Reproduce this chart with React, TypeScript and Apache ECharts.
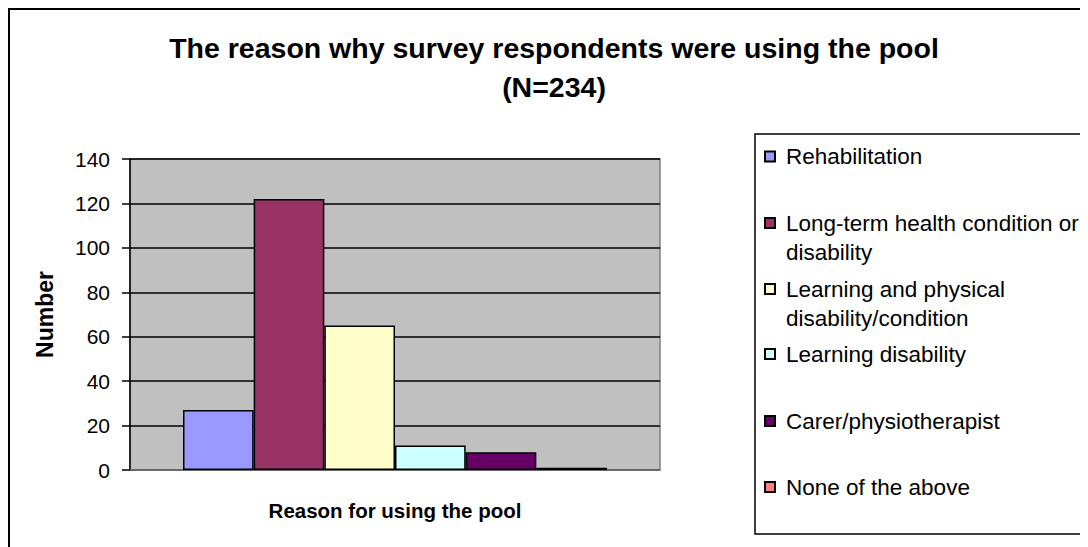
import React, { useEffect, useRef } from "react";
import * as echarts from "echarts";

const categories = [""];
const seriesNames = [
  "Rehabilitation",
  "Long-term health condition or disability",
  "Learning and physical disability/condition",
  "Learning disability",
  "Carer/physiotherapist",
  "None of the above",
];
const legendLabels = [
  "Rehabilitation",
  "Long-term health condition or\ndisability",
  "Learning and physical\ndisability/condition",
  "Learning disability",
  "Carer/physiotherapist",
  "None of the above",
];
const seriesValues = [27, 122, 65, 11, 8, 1];
const seriesColors = ["#9999FF", "#993366", "#FFFFCC", "#CCFFFF", "#660066", "#FF8080"];
const legendTops = [134, 171.5, 237.5, 331.5, 398.5, 464.5];
const yTicks = { min: 0, max: 140, interval: 20 };

const FONT = 'Arial, "Liberation Sans", sans-serif';

export default function App() {
  const ref = useRef<HTMLDivElement>(null);
  useEffect(() => {
    const chart = echarts.init(ref.current!, null, { renderer: "svg" });
    const series = seriesNames.map((name, i) => ({
      name,
      type: "bar",
      data: [seriesValues[i]],
      barGap: "0%",
      barCategoryGap: "20%",
      itemStyle: { color: seriesColors[i], borderColor: "#000", borderWidth: 1.5 },
    }));
    const legends = seriesNames.map((name, i) => {
      const twoLine = legendLabels[i].includes("\n");
      return {
        data: [name],
        orient: "vertical",
        left: 756,
        top: legendTops[i],
        padding: 0,
        itemWidth: 10,
        itemHeight: 10,
        icon: "rect",
        selectedMode: false,
        formatter: () => (twoLine ? "\n" + legendLabels[i] : legendLabels[i]),
        textStyle: {
          fontFamily: FONT,
          fontSize: 22.5,
          lineHeight: 29,
          color: "#000",
          padding: [0, 0, 0, 6],
        },
        z: 10,
      };
    });
    chart.setOption({
      animation: false,
      backgroundColor: "#fff",
      title: {
        text: "The reason why survey respondents were using the pool\n(N=234)",
        left: 546,
        top: 20,
        padding: 0,
        textAlign: "center",
        textStyle: {
          fontFamily: FONT,
          fontSize: 28.5,
          fontWeight: "bold",
          lineHeight: 39,
          color: "#000",
        },
      },
      graphic: [
        {
          type: "rect",
          z: -10,
          silent: true,
          shape: { x: 1, y: 1, width: 1300, height: 1000 },
          style: { fill: "none", stroke: "#000", lineWidth: 2 },
        },
        {
          type: "rect",
          z: 1,
          silent: true,
          shape: { x: 747, y: 126, width: 500, height: 400 },
          style: { fill: "#fff", stroke: "#000", lineWidth: 1.5 },
        },
      ],
      legend: legends,
      grid: {
        left: 122,
        top: 151,
        right: 428,
        bottom: 77,
        show: true,
        backgroundColor: "#C0C0C0",
        borderColor: "#808080",
        borderWidth: 1.5,
        outerBoundsMode: "none",
        containLabel: false,
      },
      xAxis: {
        type: "category",
        data: categories,
        name: "Reason for using the pool",
        nameLocation: "middle",
        nameGap: 29.5,
        nameTextStyle: { fontFamily: FONT, fontSize: 20.5, fontWeight: "bold", color: "#000" },
        axisLine: { show: true, lineStyle: { color: "#808080", width: 1.5 } },
        axisTick: { show: false },
        axisLabel: { show: false },
      },
      yAxis: {
        type: "value",
        min: yTicks.min,
        max: yTicks.max,
        interval: yTicks.interval,
        name: "Number",
        nameLocation: "middle",
        nameGap: 73.5,
        nameTextStyle: { fontFamily: FONT, fontSize: 23, fontWeight: "bold", color: "#000" },
        axisLine: { show: true, lineStyle: { color: "#000", width: 1.5 } },
        axisTick: { show: true, inside: false, length: 8, lineStyle: { color: "#000", width: 1.5 } },
        axisLabel: { fontFamily: FONT, fontSize: 21, color: "#000", margin: 20 },
        splitLine: { show: true, lineStyle: { color: "#000", width: 1.5 } },
      },
      series,
    });
    return () => chart.dispose();
  }, []);
  return <div ref={ref} style={{ width: 1080, height: 539 }} />;
}
